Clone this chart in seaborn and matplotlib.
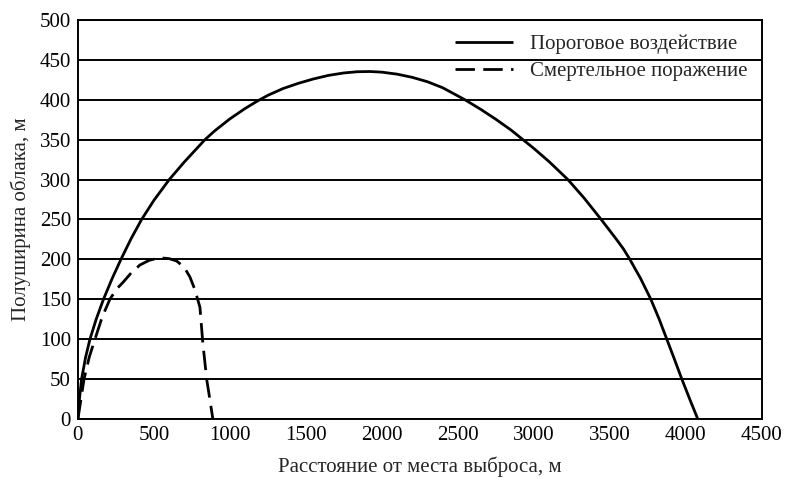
import matplotlib
matplotlib.use("Agg")
import matplotlib.pyplot as plt
import seaborn as sns
import pandas as pd

# --- Data ---
threshold_x = [0, 10, 24, 50, 79, 120, 168, 225, 283, 350, 419, 500, 601, 700, 836, 900,
               1000, 1100, 1178, 1250, 1350, 1450, 1550, 1650, 1750, 1836, 1920, 2000,
               2100, 2200, 2300, 2400, 2546, 2650, 2750, 2850, 2928, 3000, 3100, 3224,
               3330, 3441, 3540, 3590, 3632, 3670, 3700, 3770, 3825, 3875, 3925, 3974,
               4030, 4079]
threshold_y = [0, 25, 50, 77, 100, 125, 150, 176, 200, 226, 250, 274, 300, 322, 350, 361,
               376, 389, 398, 405.5, 414, 420.5, 426, 430.5, 433.5, 435, 435.3, 434.5,
               432, 428, 422.5, 415, 400, 388, 375.5, 362, 350, 339, 322.5, 300,
               277, 250.5, 226, 213, 200, 187, 177, 150, 125, 100, 75, 50,
               23, 0]

lethal_x = [0, 20, 40, 75, 112, 160, 210, 255, 300, 350, 408, 470, 540, 600, 650,
            700, 737, 770, 803, 822, 835, 848, 868, 888]
lethal_y = [0, 25, 50, 78, 100, 128, 150, 163, 172, 183, 193, 199, 202, 201, 198,
            190, 178, 162, 140, 95, 72, 49, 25, 0]

labels = ["Пороговое воздействие", "Смертельное поражение"]
x_ticks = list(range(0, 4501, 500))
y_ticks = list(range(0, 501, 50))

df = pd.concat([
    pd.DataFrame({"x": threshold_x, "y": threshold_y, "series": labels[0]}),
    pd.DataFrame({"x": lethal_x, "y": lethal_y, "series": labels[1]}),
])

sns.set_theme(style="white")
plt.rcParams["font.family"] = ["Liberation Serif", "DejaVu Serif"]

fig = plt.figure(figsize=(7.87, 4.84), dpi=100)
ax = fig.add_axes([0.099, 0.134, 0.869, 0.825])

sns.lineplot(data=df, x="x", y="y", hue="series", style="series",
             palette=["black", "black"], dashes=[(1, 0), (7, 3)],
             sort=False, estimator=None, linewidth=2, ax=ax)

for yv in y_ticks:
    ax.axhline(yv, color="black", linewidth=1.4, zorder=0)

ax.set_xlim(0, 4500)
ax.set_ylim(0, 500)
ax.set_xticks(x_ticks)
ax.set_yticks(y_ticks)
ax.tick_params(axis="both", direction="inout", length=6, width=1, colors="black",
               labelsize=15, pad=2)
for s in ax.spines.values():
    s.set_color("black")
    s.set_linewidth(1.4)

ax.set_xlabel("Расстояние от места выброса, м", fontsize=15, labelpad=8)
ax.set_ylabel("Полуширина облака, м", fontsize=15, labelpad=6)

leg = ax.legend(loc="upper right", frameon=False, fontsize=15, handlelength=2.8,
                borderaxespad=0.3, labelspacing=0.35)
for line in leg.get_lines():
    line.set_linewidth(2)

fig.savefig("out.png", dpi=100)
